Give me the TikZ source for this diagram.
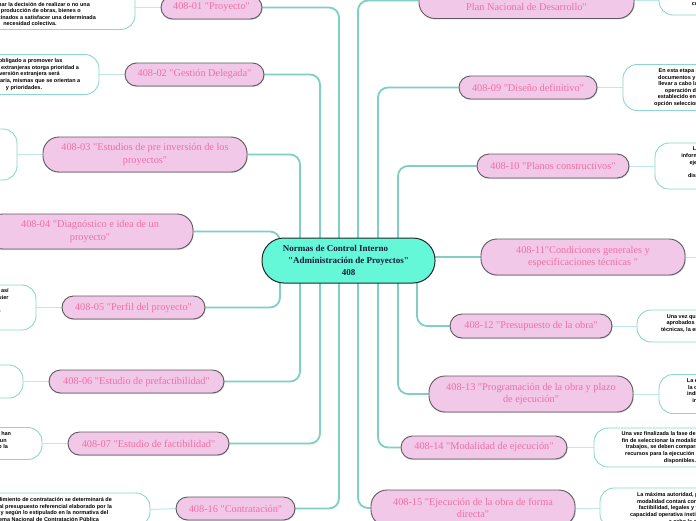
\documentclass[tikz,border=0pt]{standalone}
\usepackage{fontspec}
\usetikzlibrary{shadows}
\setmainfont{Liberation Serif}[Ligatures=TeXOff]
\newfontfamily\detfont{Liberation Sans}
\definecolor{pinkfill}{RGB}{242,200,232}
\definecolor{pinkline}{RGB}{95,90,95}
\definecolor{pinktext}{RGB}{240,110,165}
\definecolor{cfill}{RGB}{100,248,216}
\definecolor{ctext}{RGB}{25,25,60}
\definecolor{conncol}{RGB}{125,208,194}
\definecolor{detline}{RGB}{140,215,203}
\definecolor{thincol}{RGB}{190,234,227}
\pgfdeclarelayer{bg}
\pgfsetlayers{bg,main}
\newcommand\PNode[6]{\node[pinkbox,minimum width=#4,minimum height=#5,rounded corners={min(#5/2,16)}] (#1) at (#2,#3) {#6};}
\newcommand\DNode[6]{\node[detbox,minimum width=#4,minimum height=#5] (#1) at (#2,#3) {#6};}
\begin{document}
\begin{tikzpicture}[x=1pt,y=-1pt,
  pinkbox/.style={draw=pinkline,line width=0.9pt,fill=pinkfill,
    drop shadow={shadow xshift=0.7pt,shadow yshift=-0.9pt,opacity=0.35},
    text=pinktext,font=\fontsize{10.3}{12.5}\selectfont,align=center,inner sep=1pt},
  detbox/.style={draw=detline,line width=0.9pt,fill=white,rounded corners=14pt,
    text=black,font=\detfont\bfseries\fontsize{5.5}{6.6}\selectfont,align=center,inner sep=1pt},
  cnode/.style={draw=black!85,line width=1pt,fill=cfill,rounded corners=22pt,
    text=ctext,font=\bfseries\fontsize{9}{12}\selectfont,align=center,inner sep=1pt},
  connline/.style={draw=conncol,line width=1.8pt,rounded corners=10pt},
  thinline/.style={draw=thincol,line width=1pt}]
\useasboundingbox (0,0) rectangle (696,520);

% central node
\node[cnode,minimum width=173,minimum height=45] (c) at (348.5,260.5)
  {Normas de Control Interno\hspace*{26pt}\\"Administración de Proyectos"\\408};

% pink nodes, left
\PNode{p01}{211.5}{7.5}{101}{23}{408-01 "Proyecto"}
\PNode{p02}{194.5}{74.5}{139}{23}{408-02 "Gestión Delegada"}
\PNode{p03}{145}{154.5}{204}{35}{408-03 "Estudios de pre inversión de los\\proyectos"}
\PNode{p04}{90}{231.5}{206}{35}{408-04 "Diagnóstico e idea de un\\proyecto"}
\PNode{p05}{133.5}{307.5}{143}{23}{408-05 "Perfil del proyecto"}
\PNode{p06}{136.5}{381.5}{175}{23}{408-06 "Estudio de prefactibilidad"}
\PNode{p07}{148.5}{443.5}{161}{23}{408-07 "Estudio de factibilidad"}
\PNode{p16}{235.5}{508.5}{119}{23}{408-16 "Contratación"}
% pink nodes, right
\PNode{p08}{526.5}{0.5}{215}{36}{408-08 "Proyectos y su vinculación con el\\Plan Nacional de Desarrollo"}
\PNode{p09}{528}{87.5}{138}{23}{408-09 "Diseño definitivo"}
\PNode{p10}{553}{166}{152}{24}{408-10 "Planos constructivos"}
\PNode{p11}{583}{257}{204}{36}{408-11"Condiciones generales y\\especificaciones técnicas "}
\PNode{p12}{531}{326}{162}{24}{408-12 "Presupuesto de la obra"}
\PNode{p13}{531}{394}{204}{36}{408-13 "Programación de la obra y plazo\\de ejecución"}
\PNode{p14}{484}{447.5}{166}{23}{408-14 "Modalidad de ejecución"}
\PNode{p15}{473}{508}{204}{36}{408-15 "Ejecución de la obra de forma\\directa"}

% detail nodes, left
\DNode{d01}{30}{7.5}{210}{44}{Un proyecto es el conjunto de antecedentes\\que permiten evaluar una inversión y\\permite tomar la decisión de realizar o no una\\hacia la producción de obras, bienes o\\servicios destinados a satisfacer una determinada\\necesidad colectiva.}
\DNode{d02}{24}{74.5}{150}{40}{Está obligado a promover las\\inversiones extranjeras otorga prioridad a\\la inversión extranjera será\\complementaria, mismas que se orientan a\\y prioridades.}
\DNode{d03}{-58}{154.5}{150}{51}{Los estudios de pre inversión se\\se desarrollarán en las siguientes etapas:\\perfil, prefactibilidad y\\factibilidad, que se\\complementan entre sí de forma secuencial.}
\DNode{d05}{-39}{307.5}{150}{45}{Se identificarán las necesidades, así\\como las alternativas para cualquier\\solución;\\se descartarán las propuestas\\a los objetivos que persiguen\\las entidades.}
\DNode{d06}{-52}{381.5}{150}{33}{En esta etapa se analizará el proyecto\\en función de sus aspectos técnicos\\y económicos,\\entre otros.}
\DNode{d07}{-38}{443.5}{160}{32}{Una vez que los estudios previos han\\concluido, la entidad elaborará un\\estudio que determine, así como la\\viabilidad.}
\DNode{d16}{44}{509.5}{212}{33}{El procedimiento de contratación se determinará de\\acuerdo al presupuesto referencial elaborado por la\\entidad y según lo estipulado en la normativa del\\Sistema Nacional de Contratación Pública}
% detail nodes, right
\DNode{d08}{744}{0.5}{170}{29}{Los proyectos de inversión se formularán\\como parte de los objetivos nacionales.}
\DNode{d09}{708}{87.5}{170}{46}{En esta etapa se elaborarán todos los\\documentos y planos requeridos para\\llevar a cabo la ejecución, así como la\\operación del proyecto, según lo\\establecido en el estudio técnico de la\\opción seleccionada como la más viable.}
\DNode{d10}{740}{166}{170}{46}{Los planos constructivos de la obra\\informarán con precisión sobre los aspectos\\ejecutivos del proyecto y demás datos\\técnicos necesarios\\disposiciones que permitan su correcta\\ejecución.}
\DNode{d12}{720}{326}{166}{32}{Una vez que se encuentren elaborados y\\aprobados los planos y especificaciones\\técnicas, la entidad elaborará el presupuesto\\de la obra.}
\DNode{d13}{740}{394}{162}{39}{La entidad elaborará la programación de\\la obra en forma detallada, en la cual se\\indicarán las actividades, los plazos, los\\insumos y recursos necesarios para\\ello.}
\DNode{d14}{680}{447.5}{172}{39}{Una vez finalizada la fase de diseño, y con el\\fin de seleccionar la modalidad de ejecución\\trabajos, se deben comparar los costos y\\recursos para la ejecución directa con los\\disponibles.}
\DNode{d15}{688}{508}{176}{40}{La máxima autoridad, para decidir esta\\modalidad contará con los estudios de\\factibilidad, legales y financieros, y la\\capacidad operativa institucional para llevar\\a cabo la obra.}

\coordinate (e11) at (702,257);

\begin{pgfonlayer}{bg}
\fill[white] (0,0) rectangle (696,520);
% left, above
\draw[connline] (p01.east) -| ([xshift=-9.5pt]c.center);
\draw[connline] (p02.east) -| ([xshift=-28.5pt]c.center);
\draw[connline] (p03.east) -| ([xshift=-48.5pt]c.center);
\draw[connline] (p04.east) -| ([xshift=-68.5pt]c.center);
% left, below
\draw[connline] ([xshift=-68.5pt]c.center) |- (p05.east);
\draw[connline] ([xshift=-48.5pt]c.center) |- (p06.east);
\draw[connline] ([xshift=-28.5pt]c.center) |- (p07.east);
\draw[connline] ([xshift=-9.5pt]c.center) |- (p16.east);
% right, above
\draw[connline] (p08.west) -| ([xshift=9.5pt]c.center);
\draw[connline] (p09.west) -| ([xshift=29.5pt]c.center);
\draw[connline] (p10.west) -| ([xshift=49.5pt]c.center);
\draw[connline] (c.center |- p11.west) -- (p11.west);
% right, below
\draw[connline] ([xshift=68.5pt]c.center) |- (p12.west);
\draw[connline] ([xshift=49.5pt]c.center) |- (p13.west);
\draw[connline] ([xshift=29.5pt]c.center) |- (p14.west);
\draw[connline] ([xshift=9.5pt]c.center) |- (p15.west);
% detail links
\draw[thinline] (d01.east) -- (p01.west);
\draw[thinline] (d02.east) -- (p02.west);
\draw[thinline] (d03.east) -- (p03.west);
\draw[thinline] (d05.east) -- (p05.west);
\draw[thinline] (d06.east) -- (p06.west);
\draw[thinline] (d07.east) -- (p07.west);
\draw[thinline] (d16.east) -- (p16.west);
\draw[thinline] (p08.east) -- (d08.west);
\draw[thinline] (p09.east) -- (d09.west);
\draw[thinline] (p10.east) -- (d10.west);
\draw[thinline] (p11.east) -- (e11);
\draw[thinline] (p12.east) -- (d12.west);
\draw[thinline] (p13.east) -- (d13.west);
\draw[thinline] (p14.east) -- (d14.west);
\draw[thinline] (p15.east) -- (d15.west);
\end{pgfonlayer}
\end{tikzpicture}
\end{document}
